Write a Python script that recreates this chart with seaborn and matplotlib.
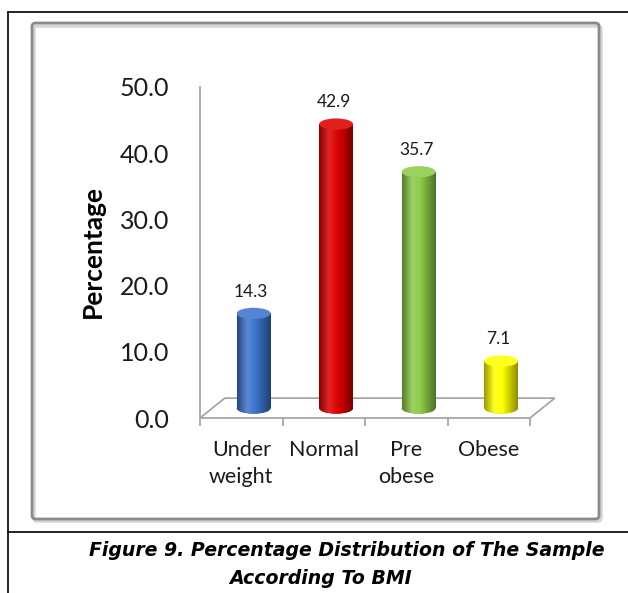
import numpy as np
import matplotlib
matplotlib.use("Agg")
import matplotlib.pyplot as plt
import seaborn as sns
import pandas as pd
from matplotlib.patches import Ellipse, Polygon, FancyBboxPatch
from matplotlib.lines import Line2D
from matplotlib.colors import LinearSegmentedColormap, to_rgb

# ---- data ----
categories = ["Under\nweight", "Normal", "Pre\nobese", "Obese"]
percentages = [14.3, 42.9, 35.7, 7.1]
bar_colors = ["#3C74CC", "#DD0000", "#8DCB48", "#FFFF00"]
y_ticks = [0, 10, 20, 30, 40, 50]
y_tick_labels = ["0.0", "10.0", "20.0", "30.0", "40.0", "50.0"]
value_labels = ["14.3", "42.9", "35.7", "7.1"]
y_label = "Percentage"
caption_lines = ["Figure 9. Percentage Distribution of The Sample", "According To BMI"]

sns.set_style("white")
plt.rcParams["font.family"] = ["Lato", "DejaVu Sans"]

W, H = 628, 593
fig = plt.figure(figsize=(W / 100, H / 100), dpi=100)
fig.patch.set_facecolor("white")

def fx(px):
    return px / W

def fy(py):
    return 1 - py / H

# outer frame and caption separator
for (x0, y0, x1, y1) in [(8, 12, 628, 12), (8, 12, 8, 593), (8, 532, 628, 532)]:
    fig.add_artist(Line2D([fx(x0), fx(x1)], [fy(y0), fy(y1)], color="black", lw=1.2,
                          transform=fig.transFigure))

# inner chart box (shadow + rounded border)
shadow = FancyBboxPatch((fx(34), fy(521)), fx(599) - fx(32), fy(24) - fy(519),
                        boxstyle="round,pad=0,rounding_size=0.006", transform=fig.transFigure,
                        facecolor="none", edgecolor="#d4d4d4", lw=2.5)
fig.add_artist(shadow)
box = FancyBboxPatch((fx(32), fy(519)), fx(599) - fx(32), fy(23) - fy(519),
                     boxstyle="round,pad=0,rounding_size=0.006", transform=fig.transFigure,
                     facecolor="none", edgecolor="#8a8a8a", lw=2)
fig.add_artist(box)

# axes: x from 200 to 530 px, y 0 at 418 px, 50 at 87 px
ax = fig.add_axes([fx(200), fy(418), fx(530) - fx(200), fy(87) - fy(418)])
ax.set_facecolor("none")

df = pd.DataFrame({"category": categories, "percent": percentages})
sns.barplot(data=df, x="category", y="percent", hue="category", palette=bar_colors,
            saturation=1, width=0.41, legend=False, ax=ax, zorder=3)

ax.set_xlim(-0.5, 3.5)
ax.set_ylim(0, 50)

# 3D-like depth: floor parallelogram
depth_x = 0.30   # data units along x
depth_y = 3.0    # data units along y
floor = Polygon([(-0.5, 0), (3.5, 0), (3.5 + depth_x, depth_y), (-0.5 + depth_x, depth_y)],
                closed=True, facecolor="white", edgecolor="#a6a6a6", lw=1.3, clip_on=False, zorder=1)
bar_patches = list(ax.patches)
ax.add_patch(floor)

shift_x = depth_x / 2
shift_y = depth_y / 2
ell_h = 1.7

def shade(c, f):
    r, g, b = to_rgb(c)
    if f < 0:
        return (r * (1 + f), g * (1 + f), b * (1 + f))
    return (r + (1 - r) * f, g + (1 - g) * f, b + (1 - b) * f)

grad = np.linspace(0, 1, 256).reshape(1, -1)
for patch, col, lab in zip(bar_patches, bar_colors, value_labels):
    x0 = patch.get_x() + shift_x
    w = patch.get_width()
    h = patch.get_height()
    patch.set_x(x0)
    patch.set_y(shift_y)
    patch.set_edgecolor("none")
    xc = x0 + w / 2
    cmap = LinearSegmentedColormap.from_list(
        "cyl", [(0, shade(col, -0.4)), (0.3, shade(col, 0.15)), (0.55, shade(col, 0.0)),
                (1, shade(col, -0.45))])
    # bottom rounded end
    bottom = Ellipse((xc, shift_y), w, ell_h, facecolor=shade(col, -0.2), edgecolor="none", zorder=3)
    ax.add_patch(bottom)
    im = ax.imshow(grad, extent=[x0, x0 + w, shift_y - ell_h, shift_y + ell_h], aspect="auto",
                   cmap=cmap, zorder=3.1, interpolation="bilinear")
    im.set_clip_path(bottom)
    im2 = ax.imshow(grad, extent=[x0, x0 + w, shift_y, shift_y + h], aspect="auto",
                    cmap=cmap, zorder=3.2, interpolation="bilinear")
    im2.set_clip_path(patch)
    top = Ellipse((xc, shift_y + h), w, ell_h, facecolor=shade(col, 0.12),
                  edgecolor="none", zorder=3.5)
    ax.add_patch(top)
    ax.text(xc - 0.03, shift_y + h + 3.3, lab, ha="center", va="center", fontsize=12.5,
            color="#1a1a1a", zorder=4)

ax.set_xlim(-0.5, 3.5)
ax.set_ylim(0, 50)

# axes styling
for s in ["top", "right", "bottom"]:
    ax.spines[s].set_visible(False)
ax.spines["left"].set_color("#a6a6a6")
ax.spines["left"].set_linewidth(1.3)
ax.set_yticks(y_ticks)
ax.set_yticklabels(y_tick_labels, fontsize=18, color="#1a1a1a")
ax.tick_params(axis="y", direction="out", length=7, width=1.3, color="#a6a6a6", pad=15)
ax.set_xticks(range(len(categories)))
ax.set_xticklabels(categories, fontsize=15.5, color="#1a1a1a", linespacing=1.45, va="top")
ax.tick_params(axis="x", length=0, pad=16)
ax.set_xticks(np.arange(-0.5, 4, 1), minor=True)
ax.tick_params(axis="x", which="minor", direction="out", length=6, width=1.3, color="#a6a6a6",
               bottom=True)
ax.set_xlabel("")
ax.set_ylabel("")

fig.text(fx(93), fy(252), y_label, rotation=90, ha="center", va="center",
         fontsize=19, fontweight="bold", color="black")

fig.text(fx(347), fy(551), caption_lines[0], ha="center", va="center", fontsize=13.6,
         fontweight="bold", fontstyle="italic", family="DejaVu Sans", color="black")
fig.text(fx(321), fy(578), caption_lines[1], ha="center", va="center", fontsize=13.6,
         fontweight="bold", fontstyle="italic", family="DejaVu Sans", color="black")

fig.savefig("out.png", dpi=100, facecolor="white")
